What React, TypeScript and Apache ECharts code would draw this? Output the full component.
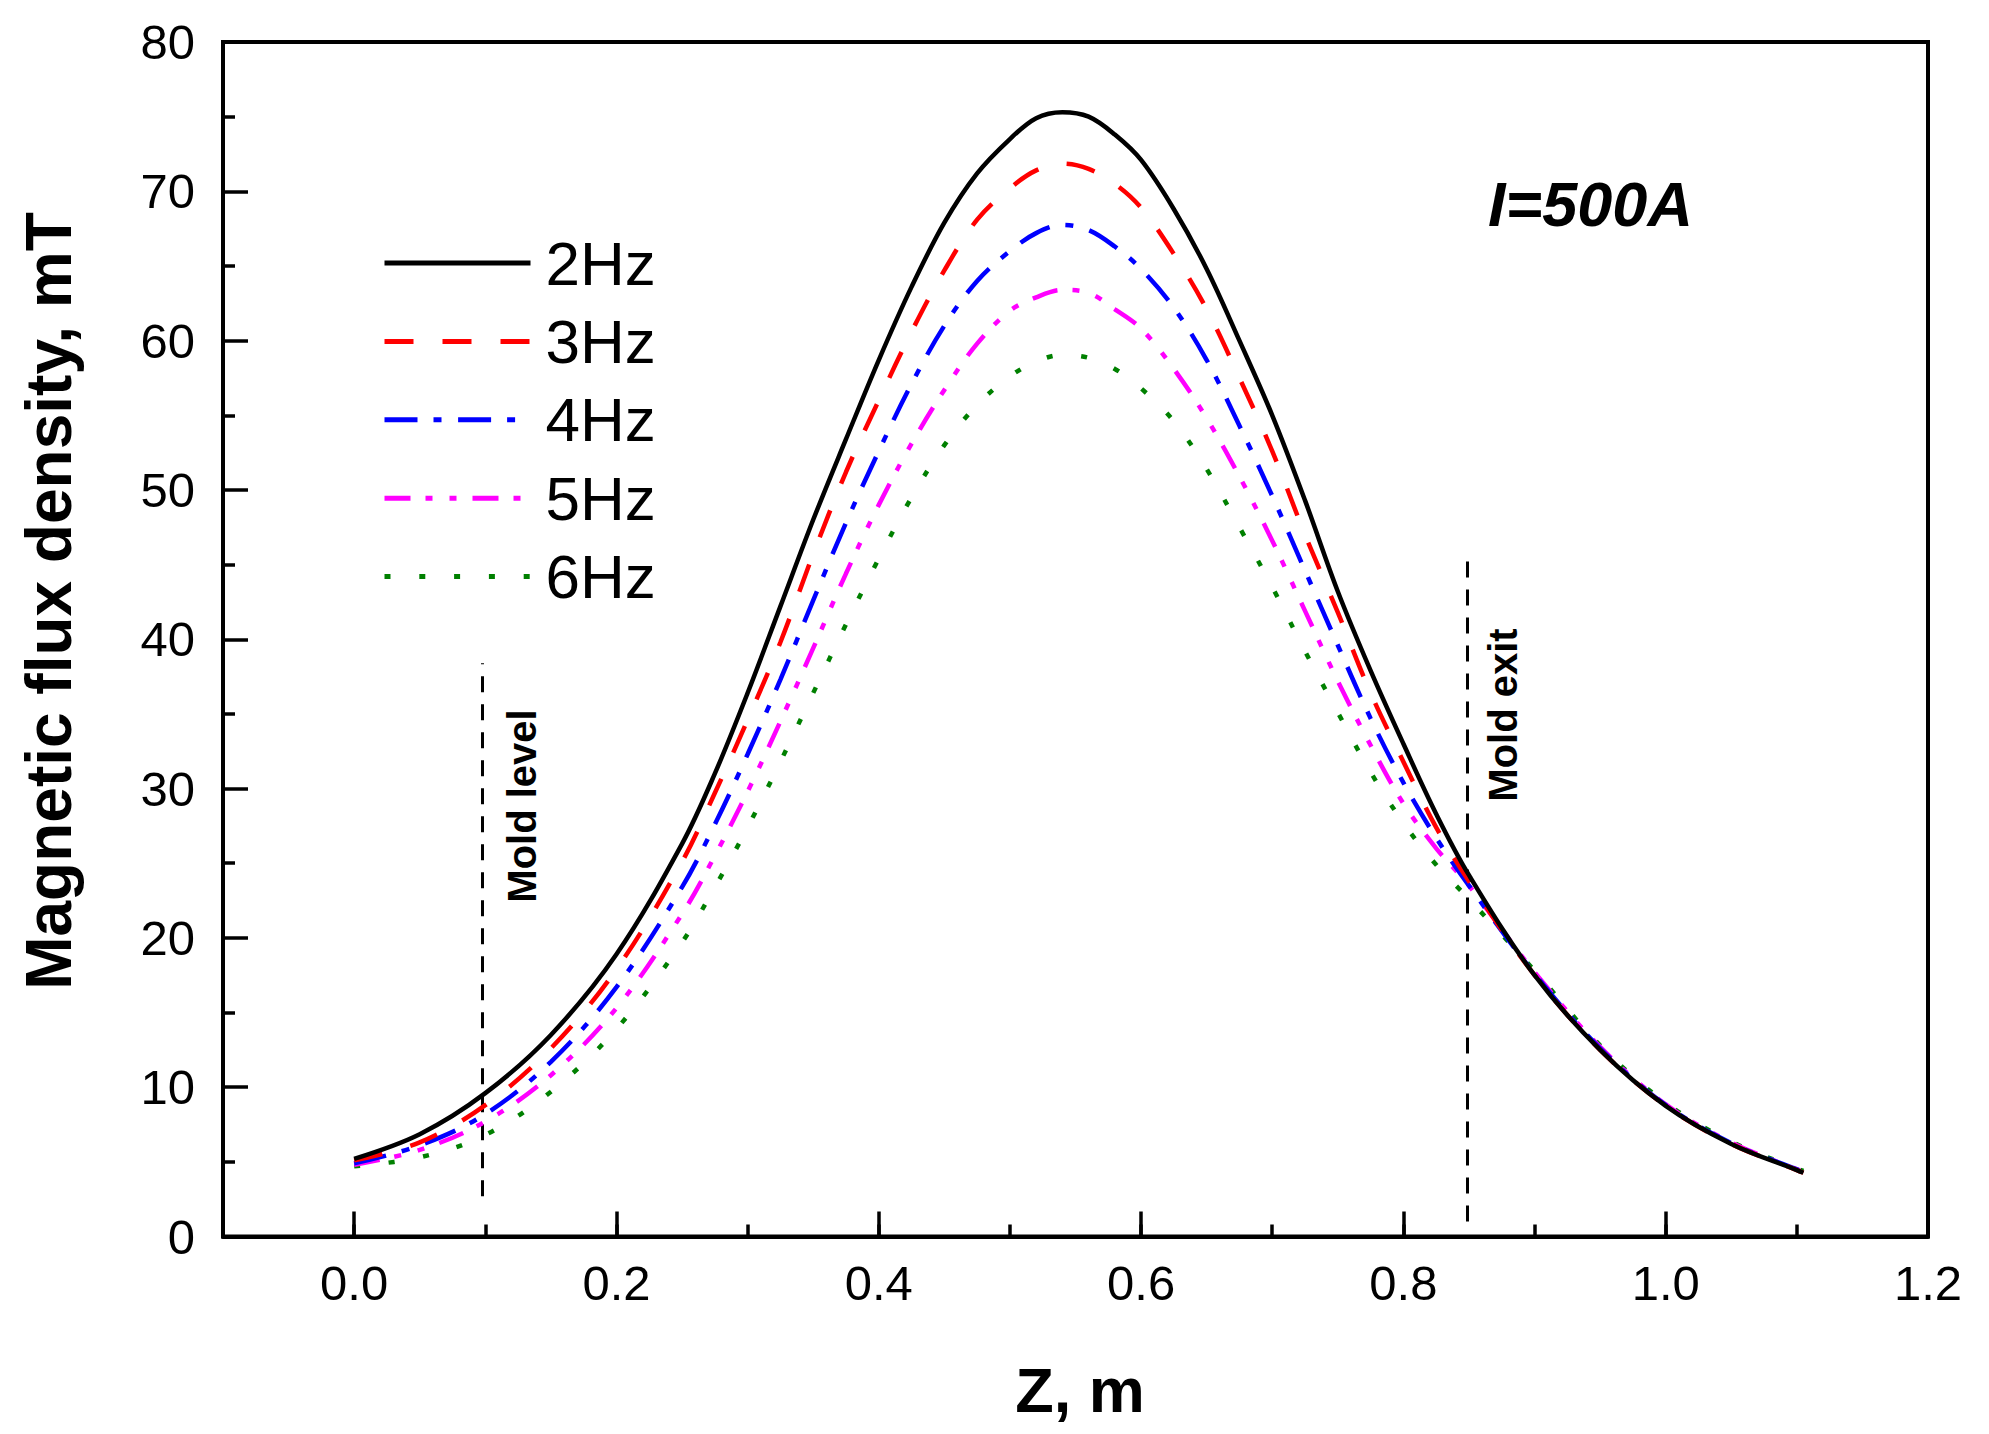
import React, { useEffect, useRef } from "react";
import * as echarts from "echarts";

const Z = [0, 0.05, 0.1, 0.15, 0.2, 0.25, 0.275, 0.3, 0.325, 0.35, 0.375, 0.4, 0.425, 0.45, 0.475, 0.5, 0.52, 0.54, 0.56, 0.58, 0.6, 0.625, 0.65, 0.675, 0.7, 0.725, 0.75, 0.775, 0.8, 0.825, 0.85, 0.9, 0.95, 1.0, 1.05, 1.1, 1.105];
const B2 = [5.2, 6.85, 9.6, 13.5, 18.9, 26.3, 31.0, 36.4, 42.2, 48.0, 53.4, 58.7, 63.6, 67.9, 71.2, 73.5, 74.9, 75.3, 75.0, 73.8, 72.1, 68.8, 64.8, 60.0, 55.0, 49.3, 43.2, 37.9, 33.0, 28.3, 24.2, 17.5, 12.5, 8.75, 6.2, 4.45, 4.27];
const B3 = [5.1, 6.3, 8.8, 12.6, 17.9, 25.1, 29.7, 34.6, 39.8, 45.7, 51.2, 56.0, 60.6, 64.7, 68.1, 70.2, 71.4, 71.85, 71.5, 70.5, 68.9, 65.8, 62.1, 57.5, 52.6, 47.0, 41.8, 36.4, 31.8, 27.4, 23.8, 17.5, 12.5, 8.75, 6.2, 4.45, 4.27];
const B4 = [4.9, 6.1, 8.2, 11.7, 16.7, 23.4, 27.6, 32.3, 37.3, 42.6, 47.8, 52.6, 57.1, 61.0, 64.0, 66.0, 67.2, 67.75, 67.4, 66.3, 64.8, 62.2, 58.7, 54.3, 49.6, 44.6, 39.6, 34.7, 30.4, 26.7, 23.5, 17.6, 12.6, 8.8, 6.25, 4.5, 4.3];
const B5 = [4.8, 5.8, 7.7, 10.8, 15.3, 21.6, 25.5, 29.8, 34.5, 39.4, 44.4, 49.0, 53.1, 56.7, 59.8, 62.0, 62.9, 63.4, 63.2, 62.1, 60.8, 58.1, 54.8, 50.9, 46.6, 41.9, 37.2, 32.9, 29.0, 26.0, 23.5, 17.7, 12.7, 8.85, 6.3, 4.5, 4.35];
const B6 = [4.7, 5.3, 6.8, 9.7, 13.9, 19.7, 23.4, 27.4, 31.8, 36.4, 41.0, 45.4, 49.5, 53.0, 55.7, 57.6, 58.6, 59.05, 58.85, 58.1, 56.8, 54.6, 51.4, 47.5, 43.5, 39.2, 35.1, 31.1, 27.7, 24.9, 22.6, 17.8, 12.8, 8.95, 6.35, 4.55, 4.4];

const SERIES_NAMES = ["2Hz", "3Hz", "4Hz", "5Hz", "6Hz"];
const SERIES_VALUES = [B2, B3, B4, B5, B6];
const SERIES_COLORS = ["#000000", "#ff0000", "#0000ff", "#ff00ff", "#008000"];
const SERIES_DASH: (string | number[])[] = [
  "solid",
  [29, 29],
  [33, 16, 8, 16.6],
  [26, 15, 7, 17, 7, 16],
  [6, 28.8],
];

// Marker lines: [z, yFrom, yTo]
const MOLD_LEVEL = [0.098, 2.7, 38.4];
const MOLD_EXIT = [0.849, 1.0, 45.2];

const X_MIN = -0.1;
const X_MAX = 1.2;
const Y_MIN = 0;
const Y_MAX = 80;

const FONT = "'Liberation Sans', Arial, Helvetica, sans-serif";

export default function App() {
  const ref = useRef<HTMLDivElement>(null);

  useEffect(() => {
    if (!ref.current) return;
    const chart = echarts.init(ref.current, undefined, { renderer: "svg" });

    const series: any[] = SERIES_NAMES.map((name, i) => ({
      name,
      type: "line",
      xAxisIndex: 0,
      yAxisIndex: 0,
      data: Z.map((z, j) => [z, SERIES_VALUES[i][j]]),
      showSymbol: false,
      symbol: "none",
      smooth: 0.35,
      lineStyle: {
        color: SERIES_COLORS[i],
        width: 4.5,
        type: SERIES_DASH[i],
        cap: "butt",
      },
      itemStyle: { color: SERIES_COLORS[i] },
      z: 10 - i,
    }));

    series[0].markLine = {
      silent: true,
      symbol: ["none", "none"],
      label: { show: false },
      lineStyle: { color: "#000", width: 3, type: [16, 12] },
      data: [
        [{ coord: [MOLD_LEVEL[0], MOLD_LEVEL[1]] }, { coord: [MOLD_LEVEL[0], MOLD_LEVEL[2]] }],
        [{ coord: [MOLD_EXIT[0], MOLD_EXIT[1]] }, { coord: [MOLD_EXIT[0], MOLD_EXIT[2]] }],
      ],
    };

    const option: any = {
      animation: false,
      backgroundColor: "#ffffff",
      grid: {
        left: 223,
        top: 42,
        width: 1705,
        height: 1194.5,
        show: true,
        borderColor: "#000",
        borderWidth: 4,
        backgroundColor: "transparent",
        containLabel: false,
      },
      xAxis: [
        {
          type: "value",
          min: X_MIN,
          max: X_MAX,
          splitNumber: 6,
          position: "bottom",
          axisLine: { show: true, onZero: false, lineStyle: { color: "#000", width: 4 } },
          axisTick: { show: true, inside: true, length: 25, lineStyle: { color: "#000", width: 3.5 } },
          minorTick: { show: false },
          splitLine: { show: false },
          axisLabel: {
            show: true,
            margin: 22,
            color: "#000",
            fontSize: 49,
            fontFamily: FONT,
            formatter: (v: number) => {
              const r = Math.round(v * 10);
              if (r % 2 !== 0) return "";
              return v.toFixed(1);
            },
          },
        },
        {
          type: "value",
          min: X_MIN,
          max: X_MAX,
          interval: 0.1,
          position: "bottom",
          axisLine: { show: false, onZero: false },
          axisTick: { show: true, inside: true, length: 12, lineStyle: { color: "#000", width: 3.5 } },
          splitLine: { show: false },
          axisLabel: { show: false },
        },
      ],
      yAxis: {
        type: "value",
        min: Y_MIN,
        max: Y_MAX,
        interval: 10,
        axisLine: { show: true, onZero: false, lineStyle: { color: "#000", width: 4 } },
        axisTick: { show: true, inside: true, length: 25, lineStyle: { color: "#000", width: 3.5 } },
        minorTick: { show: true, splitNumber: 2, length: 12, lineStyle: { color: "#000", width: 3.5 } },
        splitLine: { show: false },
        axisLabel: {
          show: true,
          margin: 28,
          color: "#000",
          fontSize: 49,
          fontFamily: FONT,
        },
      },
      legend: {
        show: true,
        orient: "vertical",
        left: 382,
        top: 232,
        itemWidth: 146,
        itemHeight: 20,
        itemGap: 16.4,
        padding: 0,
        data: SERIES_NAMES,
        itemStyle: { opacity: 0 },
        lineStyle: { width: 5 },
        textStyle: {
          color: "#000",
          fontSize: 62,
          lineHeight: 62,
          fontFamily: FONT,
          padding: [0, 0, 0, 10],
        },
      },
      graphic: [
        {
          type: "text",
          x: 49,
          y: 601,
          rotation: Math.PI / 2,
          style: {
            text: "Magnetic flux density, mT",
            fontSize: 64,
            fontWeight: "bold",
            fontFamily: FONT,
            fill: "#000",
            textAlign: "center",
            textVerticalAlign: "middle",
          },
        },
        {
          type: "text",
          x: 1080,
          y: 1390,
          style: {
            text: "Z, m",
            fontSize: 63,
            fontWeight: "bold",
            fontFamily: FONT,
            fill: "#000",
            textAlign: "center",
            textVerticalAlign: "middle",
          },
        },
        {
          type: "text",
          x: 1488,
          y: 204,
          style: {
            text: "I=500A",
            fontSize: 63,
            fontWeight: "bold",
            fontStyle: "italic",
            fontFamily: FONT,
            fill: "#000",
            textAlign: "left",
            textVerticalAlign: "middle",
          },
        },
        {
          type: "text",
          x: 522,
          y: 806,
          rotation: Math.PI / 2,
          style: {
            text: "Mold level",
            fontSize: 40,
            fontWeight: "bold",
            fontFamily: FONT,
            fill: "#000",
            textAlign: "center",
            textVerticalAlign: "middle",
          },
        },
        {
          type: "text",
          x: 1503,
          y: 715,
          rotation: Math.PI / 2,
          style: {
            text: "Mold exit",
            fontSize: 40,
            fontWeight: "bold",
            fontFamily: FONT,
            fill: "#000",
            textAlign: "center",
            textVerticalAlign: "middle",
          },
        },
      ],
      series,
    };

    chart.setOption(option);
    return () => {
      chart.dispose();
    };
  }, []);

  return (
    <div
      ref={ref}
      style={{ position: "fixed", left: 0, top: 0, width: 1989, height: 1434, background: "#fff" }}
    />
  );
}
